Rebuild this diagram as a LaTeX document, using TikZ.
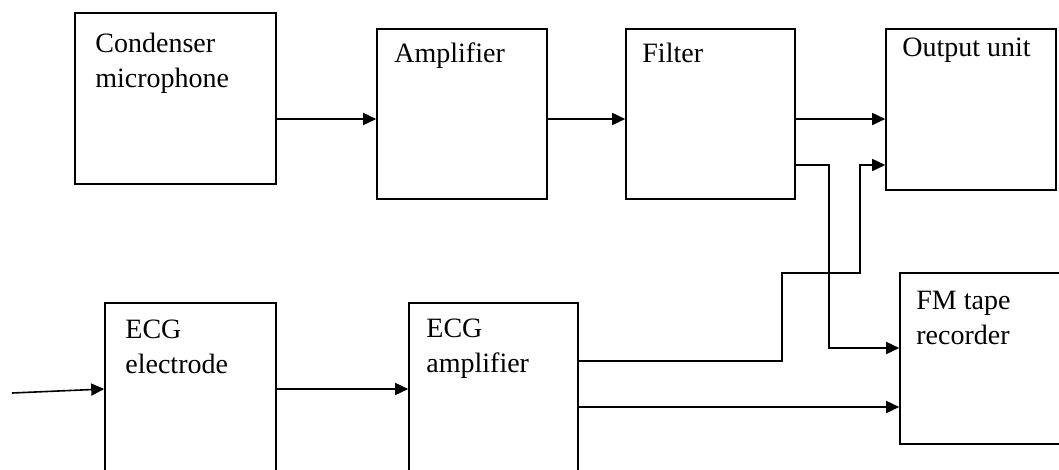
\documentclass[tikz,border=0pt]{standalone}
\usepackage{fontspec}
\setmainfont{Liberation Serif}
\usetikzlibrary{arrows.meta, positioning, calc}

\begin{document}
\begin{tikzpicture}[
    x=1pt, y=-1pt,
    every node/.style={font=\fontsize{28}{35}\selectfont},
    block/.style={rectangle, draw, line width=1.6pt, inner sep=0pt},
    lbl/.style={anchor=base west, align=left, inner sep=0pt},
    conn/.style={-{Triangle[length=13pt, width=12pt]}, line width=1.6pt}
]
\useasboundingbox (0,0) rectangle (1059,469);
\clip (0,0) rectangle (1059,469);

% Microphone channel
\node[block, minimum width=201pt, minimum height=171pt] (mic) at (175.5,98.5) {};
\node[block, minimum width=170pt, minimum height=170pt] (amp) at (462,114) {};
\node[block, minimum width=169pt, minimum height=170pt] (filter) at (710.5,114) {};
\node[block, minimum width=170pt, minimum height=161pt] (out) at (971,109.5) {};

% ECG channel (boxes run past the lower edge)
\node[block, minimum width=171pt, minimum height=187pt] (ecgel) at (190.5,396.5) {};
\node[block, minimum width=169pt, minimum height=187pt] (ecgamp) at (493.5,396.5) {};
\node[block, minimum width=175pt, minimum height=171pt] (fm) at (987.5,358.5) {};

% Labels (base = last line)
\node[lbl] (micT) at ($(mic.north west)+(21,75)$) {Condenser\\microphone};
\node[lbl] (ampT) at ($(amp.north west)+(18,34)$) {Amplifier};
\node[lbl] (filterT) at ($(filter.north west)+(17,34)$) {Filter};
\node[lbl] (outT) at ($(out.north west)+(17,28)$) {Output unit};
\node[lbl] (ecgelT) at ($(ecgel.north west)+(21,71)$) {ECG\\electrode};
\node[lbl] (ecgampT) at ($(ecgamp.north west)+(18,70)$) {ECG\\amplifier};
\node[lbl] (fmT) at ($(fm.north west)+(17,72)$) {FM tape\\recorder};

% Routing points
\coordinate (row) at (0,119);
\coordinate (ecgRow) at (0,389);
\coordinate (src) at (12,393);
\coordinate (tapF) at (829,165);
\coordinate (fmA) at (0,348);
\coordinate (fmB) at (0,407);
\coordinate (ecgA) at (782,361);
\coordinate (ecgB) at (860,273);
\coordinate (outB) at (0,165);

% Arrows
\draw[conn] (mic.east |- row) -- (amp.west |- row);
\draw[conn] (amp.east |- row) -- (filter.west |- row);
\draw[conn] (filter.east |- row) -- (out.west |- row);
\draw[conn] (filter.east |- tapF) -- (tapF) |- (fm.west |- fmA);
\draw[conn] (ecgamp.east |- ecgA) -- (ecgA) |- (ecgB) |- (out.west |- outB);
\draw[conn] (ecgamp.east |- fmB) -- (fm.west |- fmB);
\draw[conn] (src) -- (ecgel.west |- ecgRow);
\draw[conn] (ecgel.east |- ecgRow) -- (ecgamp.west |- ecgRow);

\end{tikzpicture}
\end{document}
